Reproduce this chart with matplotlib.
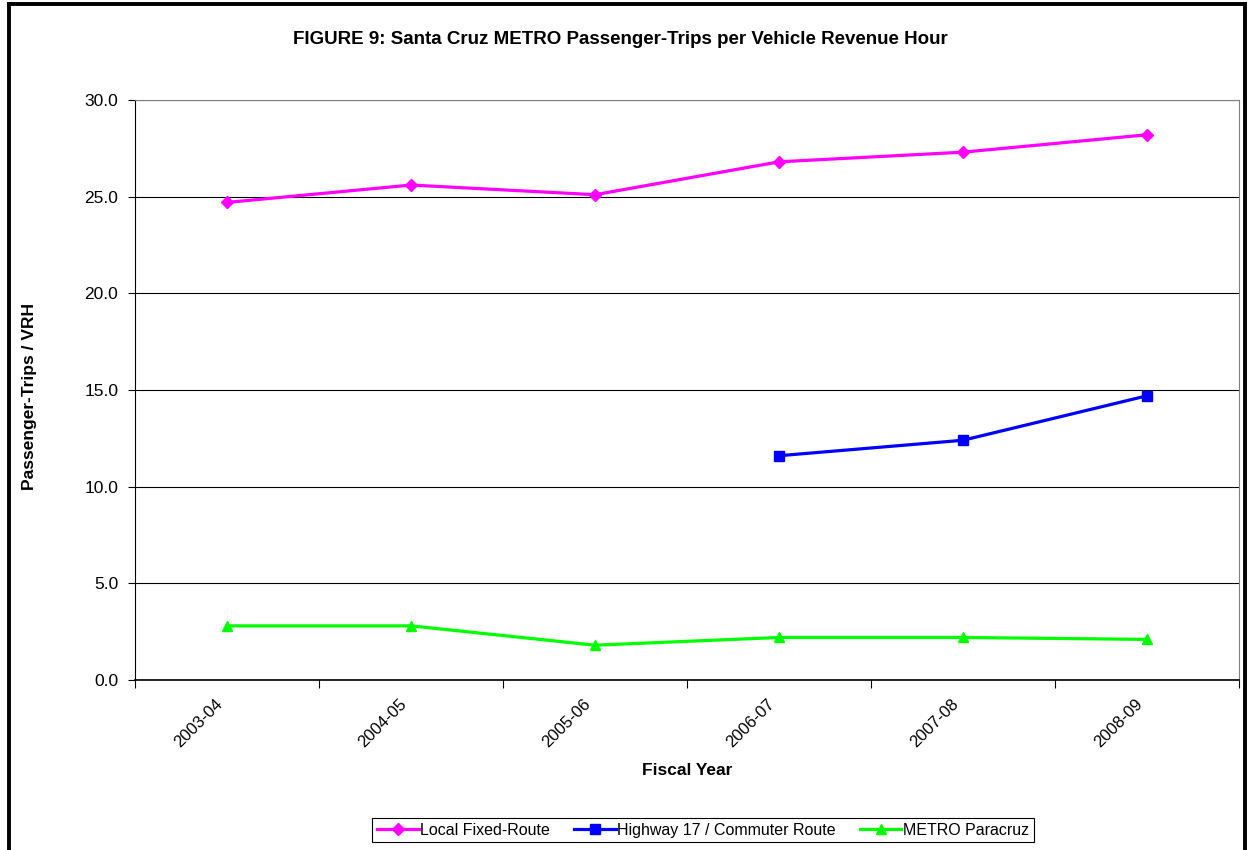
import numpy as np
import matplotlib.pyplot as plt
import matplotlib.transforms as mtransforms
from matplotlib.lines import Line2D

plt.rcParams['font.family'] = ['Liberation Sans', 'DejaVu Sans']

years = ['2003-04', '2004-05', '2005-06', '2006-07', '2007-08', '2008-09']
local_fixed = [24.7, 25.6, 25.1, 26.8, 27.3, 28.2]
highway17 = [np.nan, np.nan, np.nan, 11.6, 12.4, 14.7]
paracruz = [2.8, 2.8, 1.8, 2.2, 2.2, 2.1]
yticks = [0, 5, 10, 15, 20, 25, 30]

fig = plt.figure(figsize=(12.49, 8.5), dpi=100)
ax = fig.add_axes([0.1081, 0.2, 0.8839, 0.6824])

x = np.arange(len(years)) + 0.5
ax.plot(x, local_fixed, color='#ff00ff', lw=2.3, marker='D', ms=6.5, label='Local Fixed-Route')
ax.plot(x, highway17, color='#0000ff', lw=2.3, marker='s', ms=7, label='Highway 17 / Commuter Route')
ax.plot(x, paracruz, color='#00ff00', lw=2.3, marker='^', ms=7.5, label='METRO Paracruz')

ax.set_xlim(0, len(years))
ax.set_ylim(0, 30)
ax.set_yticks(yticks)
ax.set_yticklabels(['%.1f' % v for v in yticks], fontsize=12.5)
ax.yaxis.grid(True, color='black', lw=0.8)
ax.set_axisbelow(True)

ax.set_xticks(np.arange(len(years) + 1))
ax.set_xticklabels([])
ax.set_xticks(x, minor=True)
ax.set_xticklabels(years, minor=True, rotation=45, ha='right', rotation_mode='anchor', fontsize=12)
ax.tick_params(axis='x', which='major', direction='out', length=6, width=0.8)
ax.tick_params(axis='x', which='minor', length=0, pad=12)
ax.tick_params(axis='y', direction='out', length=5, width=0.8, pad=7)

# shift the slanted year labels a little left, as in the original
shift = mtransforms.ScaledTranslation(-12 / 100, 0, fig.dpi_scale_trans)
for lab in ax.get_xticklabels(minor=True):
    lab.set_transform(lab.get_transform() + shift)

for s in ['top', 'right']:
    ax.spines[s].set_color('#808080')
ax.spines['left'].set_color('black')
ax.spines['bottom'].set_color('black')
ax.spines['bottom'].set_linewidth(1.2)

fig.text(0.497, 0.953, 'FIGURE 9: Santa Cruz METRO Passenger-Trips per Vehicle Revenue Hour',
         ha='center', va='center', fontsize=13.5, fontweight='bold')
fig.text(0.024, 0.534, 'Passenger-Trips / VRH', rotation=90, ha='center', va='center',
         fontsize=12.5, fontweight='bold')
fig.text(0.55, 0.094, 'Fiscal Year', ha='center', va='center', fontsize=12.5, fontweight='bold')

leg = fig.legend(loc='center', bbox_to_anchor=(0.563, 0.0235), ncol=3, fontsize=11.5,
                 frameon=True, fancybox=False, edgecolor='black', framealpha=1,
                 handlelength=2.6, handletextpad=0.1, columnspacing=1.5, borderpad=0.3)
leg.get_frame().set_linewidth(0.8)

# outer chart border
for xs, ys in [([0.007, 0.007], [0, 0.995]), ([0.007, 0.997], [0.995, 0.995]), ([0.997, 0.997], [0, 0.995])]:
    fig.add_artist(Line2D(xs, ys, transform=fig.transFigure, color='black', lw=2.8,
                          solid_capstyle='projecting'))

fig.savefig('out.png', dpi=100)
